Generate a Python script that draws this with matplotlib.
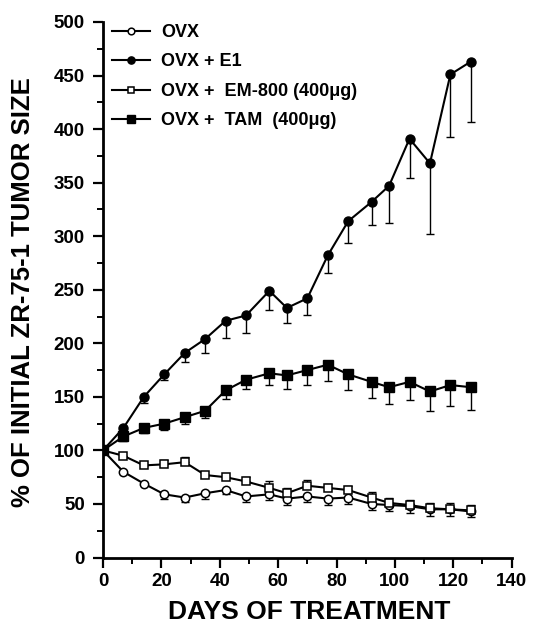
import matplotlib
matplotlib.use("Agg")
import matplotlib.pyplot as plt
from matplotlib.ticker import MultipleLocator

plt.rcParams['font.family'] = ['Liberation Sans', 'DejaVu Sans']

days = [0, 7, 14, 21, 28, 35, 42, 49, 57, 63, 70, 77, 84, 92, 98, 105, 112, 119, 126]

ovx = [100, 80, 69, 59, 56, 60, 63, 57, 59, 55, 57, 55, 56, 50, 49, 48, 45, 45, 43]
ovx_err = [0, 0, 0, 4, 4, 5, 4, 5, 5, 6, 5, 6, 6, 6, 6, 6, 6, 6, 5]

e1 = [100, 121, 150, 171, 191, 204, 221, 226, 249, 233, 242, 282, 314, 332, 347, 391, 368, 451, 463]
e1_err = [0, 0, 6, 5, 8, 13, 16, 16, 18, 14, 16, 16, 20, 22, 35, 37, 66, 58, 56]

em800 = [100, 95, 86, 87, 89, 77, 75, 71, 65, 60, 67, 65, 63, 56, 51, 49, 46, 45, 44]
em800_err = [0, 0, 0, 4, 5, 0, 0, 4, 6, 5, 5, 4, 4, 5, 5, 5, 5, 6, 5]

tam = [100, 113, 121, 125, 131, 137, 156, 166, 172, 170, 175, 180, 171, 164, 159, 164, 155, 161, 159]
tam_err = [0, 4, 5, 6, 6, 7, 8, 9, 11, 13, 14, 15, 15, 15, 16, 17, 18, 20, 21]

labels = ['OVX', 'OVX + E1', 'OVX +  EM-800 (400\u03bcg)', 'OVX +  TAM  (400\u03bcg)']

fig = plt.figure(figsize=(5.33, 6.26), dpi=100)
ax = fig.add_axes([0.1932, 0.1094, 0.7668, 0.8555])

n = len(days)
zeros = [0] * n
# error bars (one-sided)
eb = dict(fmt='none', ecolor='black', elinewidth=1.0, capsize=3, capthick=1.0, zorder=2)
ax.errorbar(days, e1, yerr=[e1_err, zeros], **eb)
ax.errorbar(days, tam, yerr=[tam_err, zeros], **eb)
ax.errorbar(days, em800, yerr=[zeros, em800_err], **eb)
ax.errorbar(days, ovx, yerr=[ovx_err, zeros], **eb)

ax.plot(days, ovx, color='black', lw=1.5, marker='o', ms=6, mfc='white', mec='black',
        mew=1.1, label=labels[0], zorder=4)
ax.plot(days, e1, color='black', lw=1.5, marker='o', ms=6.5, mfc='black', mec='black',
        label=labels[1], zorder=4)
ax.plot(days, em800, color='black', lw=1.5, marker='s', ms=6, mfc='white', mec='black',
        mew=1.1, label=labels[2], zorder=4)
ax.plot(days, tam, color='black', lw=1.5, marker='s', ms=6.5, mfc='black', mec='black',
        label=labels[3], zorder=4)

ax.set_xlim(0, 140)
ax.set_ylim(0, 500)
ax.xaxis.set_major_locator(MultipleLocator(20))
ax.xaxis.set_minor_locator(MultipleLocator(10))
ax.yaxis.set_major_locator(MultipleLocator(50))
ax.yaxis.set_minor_locator(MultipleLocator(25))

for s in ['top', 'right']:
    ax.spines[s].set_visible(False)
for s in ['left', 'bottom']:
    ax.spines[s].set_linewidth(2)

ax.tick_params(which='major', direction='out', length=7, width=1.6, labelsize=13.5)
ax.tick_params(which='minor', direction='out', length=4.5, width=1.4)
ax.tick_params(axis='y', which='major', pad=6)
ax.tick_params(axis='x', which='major', pad=4)
for lab in ax.get_xticklabels() + ax.get_yticklabels():
    lab.set_fontweight('bold')

fig.text(309 / 533, 0.011, 'DAYS OF TREATMENT', fontsize=19, fontweight='bold',
         ha='center', va='baseline')
fig.text(23 / 533, 1 - 292.5 / 626, '% OF INITIAL ZR-75-1 TUMOR SIZE', fontsize=18.5,
         fontweight='bold', rotation=90, ha='center', va='center')

leg = ax.legend(loc='upper left', bbox_to_anchor=(112 / 533, 1 - 24 / 626),
                bbox_transform=fig.transFigure, frameon=False,
                prop={'weight': 'bold', 'size': 13}, handlelength=2.1,
                handletextpad=0.6, labelspacing=0.69, markerscale=0.8,
                borderpad=0, borderaxespad=0)

fig.savefig('out.png', dpi=100)
